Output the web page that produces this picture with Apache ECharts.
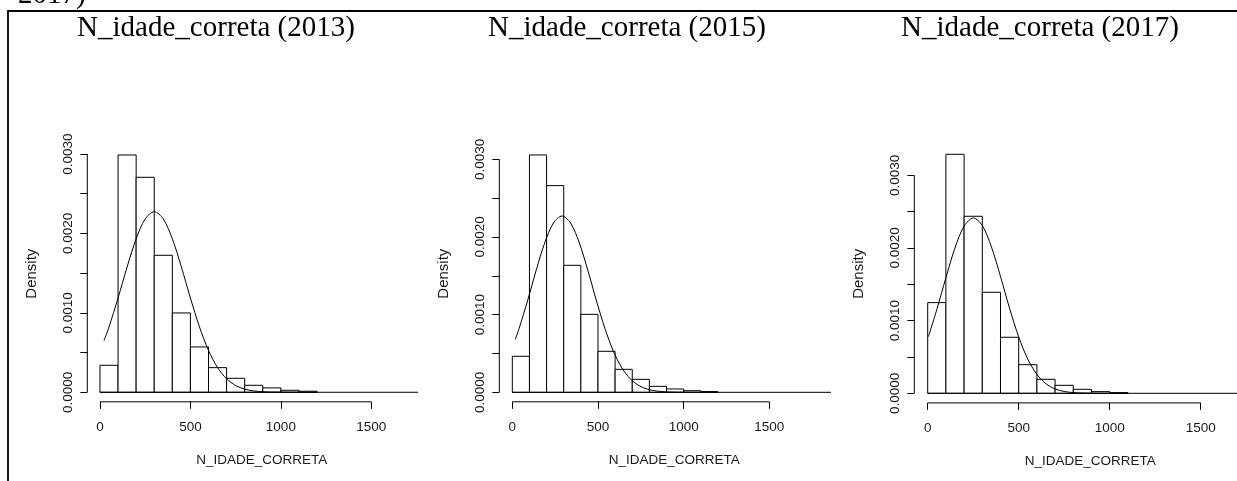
<!DOCTYPE html>
<html>
<head>
<meta charset="utf-8">
<script src="https://cdn.jsdelivr.net/npm/echarts@6/dist/echarts.min.js"></script>
<style>
  html, body { margin: 0; padding: 0; background: #fff; }
  #chart { width: 1237px; height: 481px; }
</style>
</head>
<body>
<div id="chart"></div>
<script>
// Histogram bin edges shared by the three years
const binEdges = [0, 100, 200, 300, 400, 500, 600, 700, 800, 900, 1000, 1100, 1200];

// Density of each bin, per year
const density2013 = [0.00034, 0.002988, 0.002707, 0.001725, 0.000999, 0.000571, 0.00031, 0.000176, 0.000088, 0.000055, 0.000025, 0.000013];
const density2015 = [0.000464, 0.003056, 0.002661, 0.001635, 0.001004, 0.000528, 0.000296, 0.000167, 0.000077, 0.000043, 0.000021, 0.000009];
const density2017 = [0.001248, 0.003289, 0.002436, 0.00139, 0.000771, 0.000394, 0.000193, 0.00011, 0.000055, 0.000023, 0.000009];

// Normal density curves laid over each histogram (sampled points)
const curveX2013 = [22, 50, 100, 150, 200, 250, 300, 350, 400, 450, 500, 550, 600, 650, 700, 750, 800, 850, 900, 950, 1000, 1100, 1200];
const curveY2013 = [0.000648, 0.000823, 0.001187, 0.001578, 0.001933, 0.002183, 0.002274, 0.002183, 0.001933, 0.001578, 0.001187, 0.000823, 0.000527, 0.000311, 0.000169, 0.0000847, 0.0000391, 0.0000167, 0.0000065, 0.0000024, 0.0000008, 0, 0];
const curveX2015 = [17, 40, 90, 140, 190, 240, 290, 340, 390, 440, 490, 540, 590, 640, 690, 740, 790, 840, 890, 940, 990, 1100, 1200];
const curveY2015 = [0.000679, 0.000825, 0.001187, 0.001577, 0.001931, 0.00218, 0.00227, 0.00218, 0.001931, 0.001577, 0.001187, 0.000825, 0.000528, 0.000312, 0.00017, 0.0000854, 0.0000396, 0.0000169, 0.0000067, 0.0000024, 0.0000008, 0, 0];
const curveX2017 = [4, 50, 100, 150, 200, 251, 300, 350, 400, 450, 500, 550, 600, 650, 700, 750, 800, 850, 900, 1000, 1100];
const curveY2017 = [0.00078, 0.001152, 0.00159, 0.002002, 0.002301, 0.002413, 0.002309, 0.002017, 0.001608, 0.001169, 0.000776, 0.00047, 0.00026, 0.000131, 0.0000603, 0.0000253, 0.0000097, 0.0000034, 0.0000011, 0, 0];

const years = ['2013', '2015', '2017'];
const titlePrefix = 'N_idade_correta';
const xAxisTitle = 'N_IDADE_CORRETA';
const yAxisTitle = 'Density';
const xTickValues = [0, 500, 1000, 1500];
const yTickValues = [0, 0.0005, 0.001, 0.0015, 0.002, 0.0025, 0.003];
const yLabelValues = [0, 0.001, 0.002, 0.003];
const captionTail = '2017)';

const densities = [density2013, density2015, density2017];
const curvesX = [curveX2013, curveX2015, curveX2017];
const curvesY = [curveY2013, curveY2015, curveY2017];

// Plot-region placement of each panel (pixels) and its axis ranges
const layout = [
  { left: 87.3,  right: 418,  top: 145.5, bottom: 401.8, xMin: -70,   xMax: 1758,   yMin: -0.00012,  yMax: 0.0031075, titleX: 216,  nameShift: 18 },
  { left: 499.3, right: 831,  top: 145.5, bottom: 401.8, xMin: -76,   xMax: 1860,   yMin: -0.000122, yMax: 0.0031775, titleX: 627,  nameShift: 18 },
  { left: 914.3, right: 1237, top: 144.7, bottom: 402.9, xMin: -73.6, xMax: 1699.5, yMin: -0.000132, yMax: 0.003421,  titleX: 1040, nameShift: 29 }
];

const sansFont = '"Liberation Sans", Arial, sans-serif';
const serifFont = '"Liberation Serif", "Times New Roman", serif';
const inkColor = '#000';
const labelColor = '#1a1a1a';

// Bars of a histogram: each item is [binStart, binEnd, density]
function histogramItem(params, api) {
  const base = api.coord([api.value(0), 0]);
  const top = api.coord([api.value(1), api.value(2)]);
  return {
    type: 'rect',
    shape: { x: base[0], y: top[1], width: top[0] - base[0], height: base[1] - top[1] },
    style: { fill: '#fff', stroke: inkColor, lineWidth: 1 }
  };
}

// Axis lines spanning only the ticked range, plus the zero baseline
function axisLinesItem(params, api) {
  const cs = params.coordSys;
  const zero = api.coord([binEdges[0], 0]);
  const yLow = api.coord([0, yTickValues[0]]);
  const yHigh = api.coord([0, yTickValues[yTickValues.length - 1]]);
  const xLow = api.coord([xTickValues[0], 0]);
  const xHigh = api.coord([xTickValues[xTickValues.length - 1], 0]);
  const left = cs.x;
  const right = cs.x + cs.width;
  const bottom = cs.y + cs.height;
  const style = { stroke: inkColor, lineWidth: 1 };
  return {
    type: 'group',
    children: [
      { type: 'line', shape: { x1: zero[0], y1: zero[1], x2: right, y2: zero[1] }, style },
      { type: 'line', shape: { x1: left, y1: yLow[1], x2: left, y2: yHigh[1] }, style },
      { type: 'line', shape: { x1: xLow[0], y1: bottom, x2: xHigh[0], y2: bottom }, style }
    ]
  };
}

const grids = [], xAxes = [], yAxes = [], series = [], graphics = [];

layout.forEach((p, i) => {
  grids.push({
    left: p.left, top: p.top,
    width: p.right - p.left, height: p.bottom - p.top,
    containLabel: false, outerBoundsMode: 'none'
  });

  xAxes.push({
    type: 'value', gridIndex: i, min: p.xMin, max: p.xMax,
    axisLine: { show: false, onZero: false },
    splitLine: { show: false },
    axisTick: { show: true, customValues: xTickValues, length: 7, lineStyle: { color: inkColor, width: 1 } },
    axisLabel: {
      customValues: xTickValues, margin: 18, color: labelColor, fontSize: 13.5, fontFamily: sansFont,
      formatter: v => String(v)
    },
    name: xAxisTitle, nameLocation: 'middle', nameGap: 51,
    nameTextStyle: { color: labelColor, fontSize: 13.5, fontFamily: sansFont, padding: [0, 0, 0, p.nameShift] }
  });

  yAxes.push({
    type: 'value', gridIndex: i, min: p.yMin, max: p.yMax,
    axisLine: { show: false, onZero: false },
    splitLine: { show: false },
    axisTick: { show: true, customValues: yTickValues, length: 7, lineStyle: { color: inkColor, width: 1 } },
    axisLabel: {
      customValues: yLabelValues, rotate: 90, margin: 12,
      color: labelColor, fontSize: 13.5, fontFamily: sansFont,
      formatter: v => Number(v).toFixed(4)
    },
    name: yAxisTitle, nameLocation: 'middle', nameRotate: 90, nameGap: 48,
    nameTextStyle: { color: labelColor, fontSize: 15, fontFamily: sansFont }
  });

  series.push({
    type: 'custom', name: 'hist' + years[i], xAxisIndex: i, yAxisIndex: i,
    renderItem: histogramItem,
    encode: { x: [0, 1], y: 2 },
    data: densities[i].map((h, k) => [binEdges[k], binEdges[k + 1], h]),
    silent: true, z: 2
  });

  series.push({
    type: 'line', name: 'normal' + years[i], xAxisIndex: i, yAxisIndex: i,
    data: curvesX[i].map((x, k) => [x, curvesY[i][k]]),
    showSymbol: false, smooth: 0.3,
    lineStyle: { color: inkColor, width: 1 },
    silent: true, z: 3
  });

  series.push({
    type: 'custom', name: 'axes' + years[i], xAxisIndex: i, yAxisIndex: i,
    renderItem: axisLinesItem,
    data: [[0, 0]],
    silent: true, z: 4
  });

  graphics.push({
    type: 'text', x: p.titleX, y: 28,
    style: { text: titlePrefix + ' (' + years[i] + ')', font: '29px ' + serifFont, fill: inkColor, align: 'center', verticalAlign: 'middle' }
  });
});

// Page frame and the end of the preceding caption line
graphics.push({
  type: 'polyline',
  shape: { points: [[8, 481], [8, 11], [1237, 11]] },
  style: { stroke: inkColor, lineWidth: 1.8, fill: null }
});
graphics.push({
  type: 'text', x: 18, y: -4.5,
  style: { text: captionTail, font: '29px ' + serifFont, fill: inkColor, align: 'left', verticalAlign: 'middle' }
});

const chart = echarts.init(document.getElementById('chart'), null, { renderer: 'canvas' });
chart.setOption({
  backgroundColor: '#fff',
  animation: false,
  grid: grids,
  xAxis: xAxes,
  yAxis: yAxes,
  series: series,
  graphic: graphics
});
</script>
</body>
</html>
